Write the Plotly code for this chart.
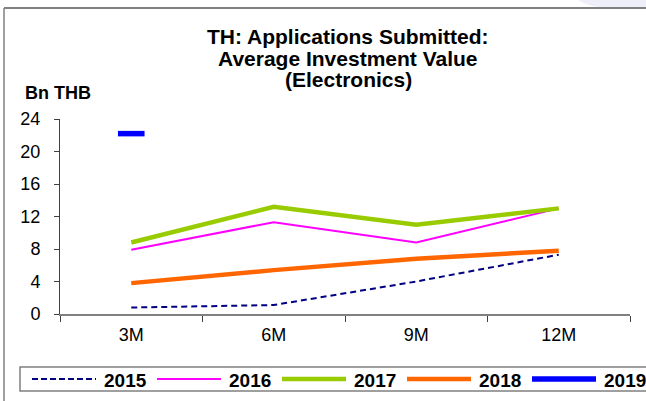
import plotly.graph_objects as go

# data (Bn THB)
kategorie = ["3M", "6M", "9M", "12M"]
lata = ["2015", "2016", "2017", "2018", "2019"]
w2015 = [0.8, 1.1, 4.0, 7.3]
w2016 = [7.9, 11.3, 8.8, 13.0]
w2017 = [8.8, 13.2, 11.0, 13.0]
w2018 = [3.8, 5.4, 6.8, 7.8]
w2019 = [22.2, None, None, None]
y_ticks = [0, 4, 8, 12, 16, 20, 24]
tytul = ["TH: Applications Submitted:", "Average Investment Value", "(Electronics)"]

FONT = "Liberation Sans, Arial, sans-serif"
W, H = 646, 401
L, R, T, B = 60, 16, 119, 87  # plot area: x 60..630, y 119..314

style = {
    "2015": dict(color="#000080", width=2, dash="6px,4px"),
    "2016": dict(color="#FF00FF", width=2, dash="solid"),
    "2017": dict(color="#99CC00", width=4.5, dash="solid"),
    "2018": dict(color="#FF6600", width=4.5, dash="solid"),
    "2019": dict(color="#0000FF", width=5.5, dash="solid"),
}


def px(x):
    # page pixel -> paper x
    return (x - L) / (W - L - R)


def py(y):
    # page pixel -> paper y
    return (H - B - y) / (H - T - B)


fig = go.Figure()
for rok, wartosci in zip(lata[:4], [w2015, w2016, w2017, w2018]):
    fig.add_trace(go.Scatter(x=kategorie, y=wartosci, mode="lines", name=rok,
                             line=style[rok], showlegend=False))

# 2019 has only one point -> Excel draws it as a short dash marker
fig.add_trace(go.Scatter(x=kategorie, y=w2019, mode="markers", name="2019",
                         marker=dict(symbol="line-ew", size=19,
                                     line=dict(color=style["2019"]["color"], width=5.5)),
                         showlegend=False))

shapes = []
annotations = []

# hand-made legend (Excel style, long line samples)
for i, rok in enumerate(lata):
    x0 = 32 + 125 * i
    s = style[rok]
    dash = "6px,3px" if rok == "2015" else s["dash"]
    shapes.append(dict(type="line", xref="paper", yref="paper",
                       x0=px(x0), x1=px(x0 + 64), y0=py(379), y1=py(379),
                       line=dict(color=s["color"], width=s["width"], dash=dash)))
    annotations.append(dict(text="<b>%s</b>" % rok, xref="paper", yref="paper",
                            x=px(x0 + 70), y=py(380), xanchor="left", yanchor="middle",
                            showarrow=False, font=dict(family=FONT, size=19, color="black")))

# legend box
shapes.append(dict(type="rect", xref="paper", yref="paper",
                   x0=px(20), x1=px(652), y0=py(367), y1=py(391),
                   line=dict(color="#808080", width=1.5)))
# outer frame of the slide chart
shapes.append(dict(type="line", xref="paper", yref="paper",
                   x0=px(4), x1=px(4), y0=py(8), y1=py(402),
                   line=dict(color="#808080", width=1.5)))
shapes.append(dict(type="line", xref="paper", yref="paper",
                   x0=px(4), x1=px(647), y0=py(8), y1=py(8),
                   line=dict(color="#808080", width=2)))
# light swoosh top right
shapes.append(dict(type="path", xref="paper", yref="paper",
                   path="M %f,%f Q %f,%f %f,%f L %f,%f L %f,%f Z" % (
                       px(578), py(0), px(590), py(7), px(600), py(7),
                       px(646), py(7), px(646), py(0)),
                   fillcolor="#EEEEF8", line=dict(width=0), layer="below"))

# title, one annotation per line to keep Excel's tight line spacing
for linia, yc in zip(tytul, [36.5, 58, 79]):
    annotations.append(dict(text="<b>%s</b>" % linia, xref="paper", yref="paper",
                            x=px(348), y=py(yc), xanchor="center", yanchor="middle",
                            showarrow=False, font=dict(family=FONT, size=21, color="black")))

annotations.append(dict(text="<b>Bn THB</b>", xref="paper", yref="paper",
                        x=px(23), y=py(92.5), xanchor="left", yanchor="middle",
                        showarrow=False, font=dict(family=FONT, size=18, color="black")))

fig.update_layout(
    width=W, height=H,
    margin=dict(l=L, r=R, t=T, b=B),
    paper_bgcolor="white", plot_bgcolor="white",
    font=dict(family=FONT, size=16, color="black"),
    shapes=shapes,
    annotations=annotations,
    showlegend=False,
)

fig.update_xaxes(type="category", range=[-0.5, 3.5], tickson="boundaries",
                 ticks="outside", ticklen=6, tickcolor="#404040",
                 showline=True, linecolor="#808080", linewidth=1.5,
                 showgrid=False, zeroline=False, ticklabelstandoff=4,
                 tickfont=dict(family=FONT, size=18))
fig.update_yaxes(range=[0, 24], tickvals=y_ticks, ticks="outside", ticklen=5,
                 tickcolor="#404040", showline=True, linecolor="#404040", linewidth=1,
                 showgrid=False, zeroline=False, ticklabelstandoff=10,
                 tickfont=dict(family=FONT, size=18))

fig.write_html("out.html", config={"displayModeBar": False},
               post_script="document.body.style.margin='0';")
